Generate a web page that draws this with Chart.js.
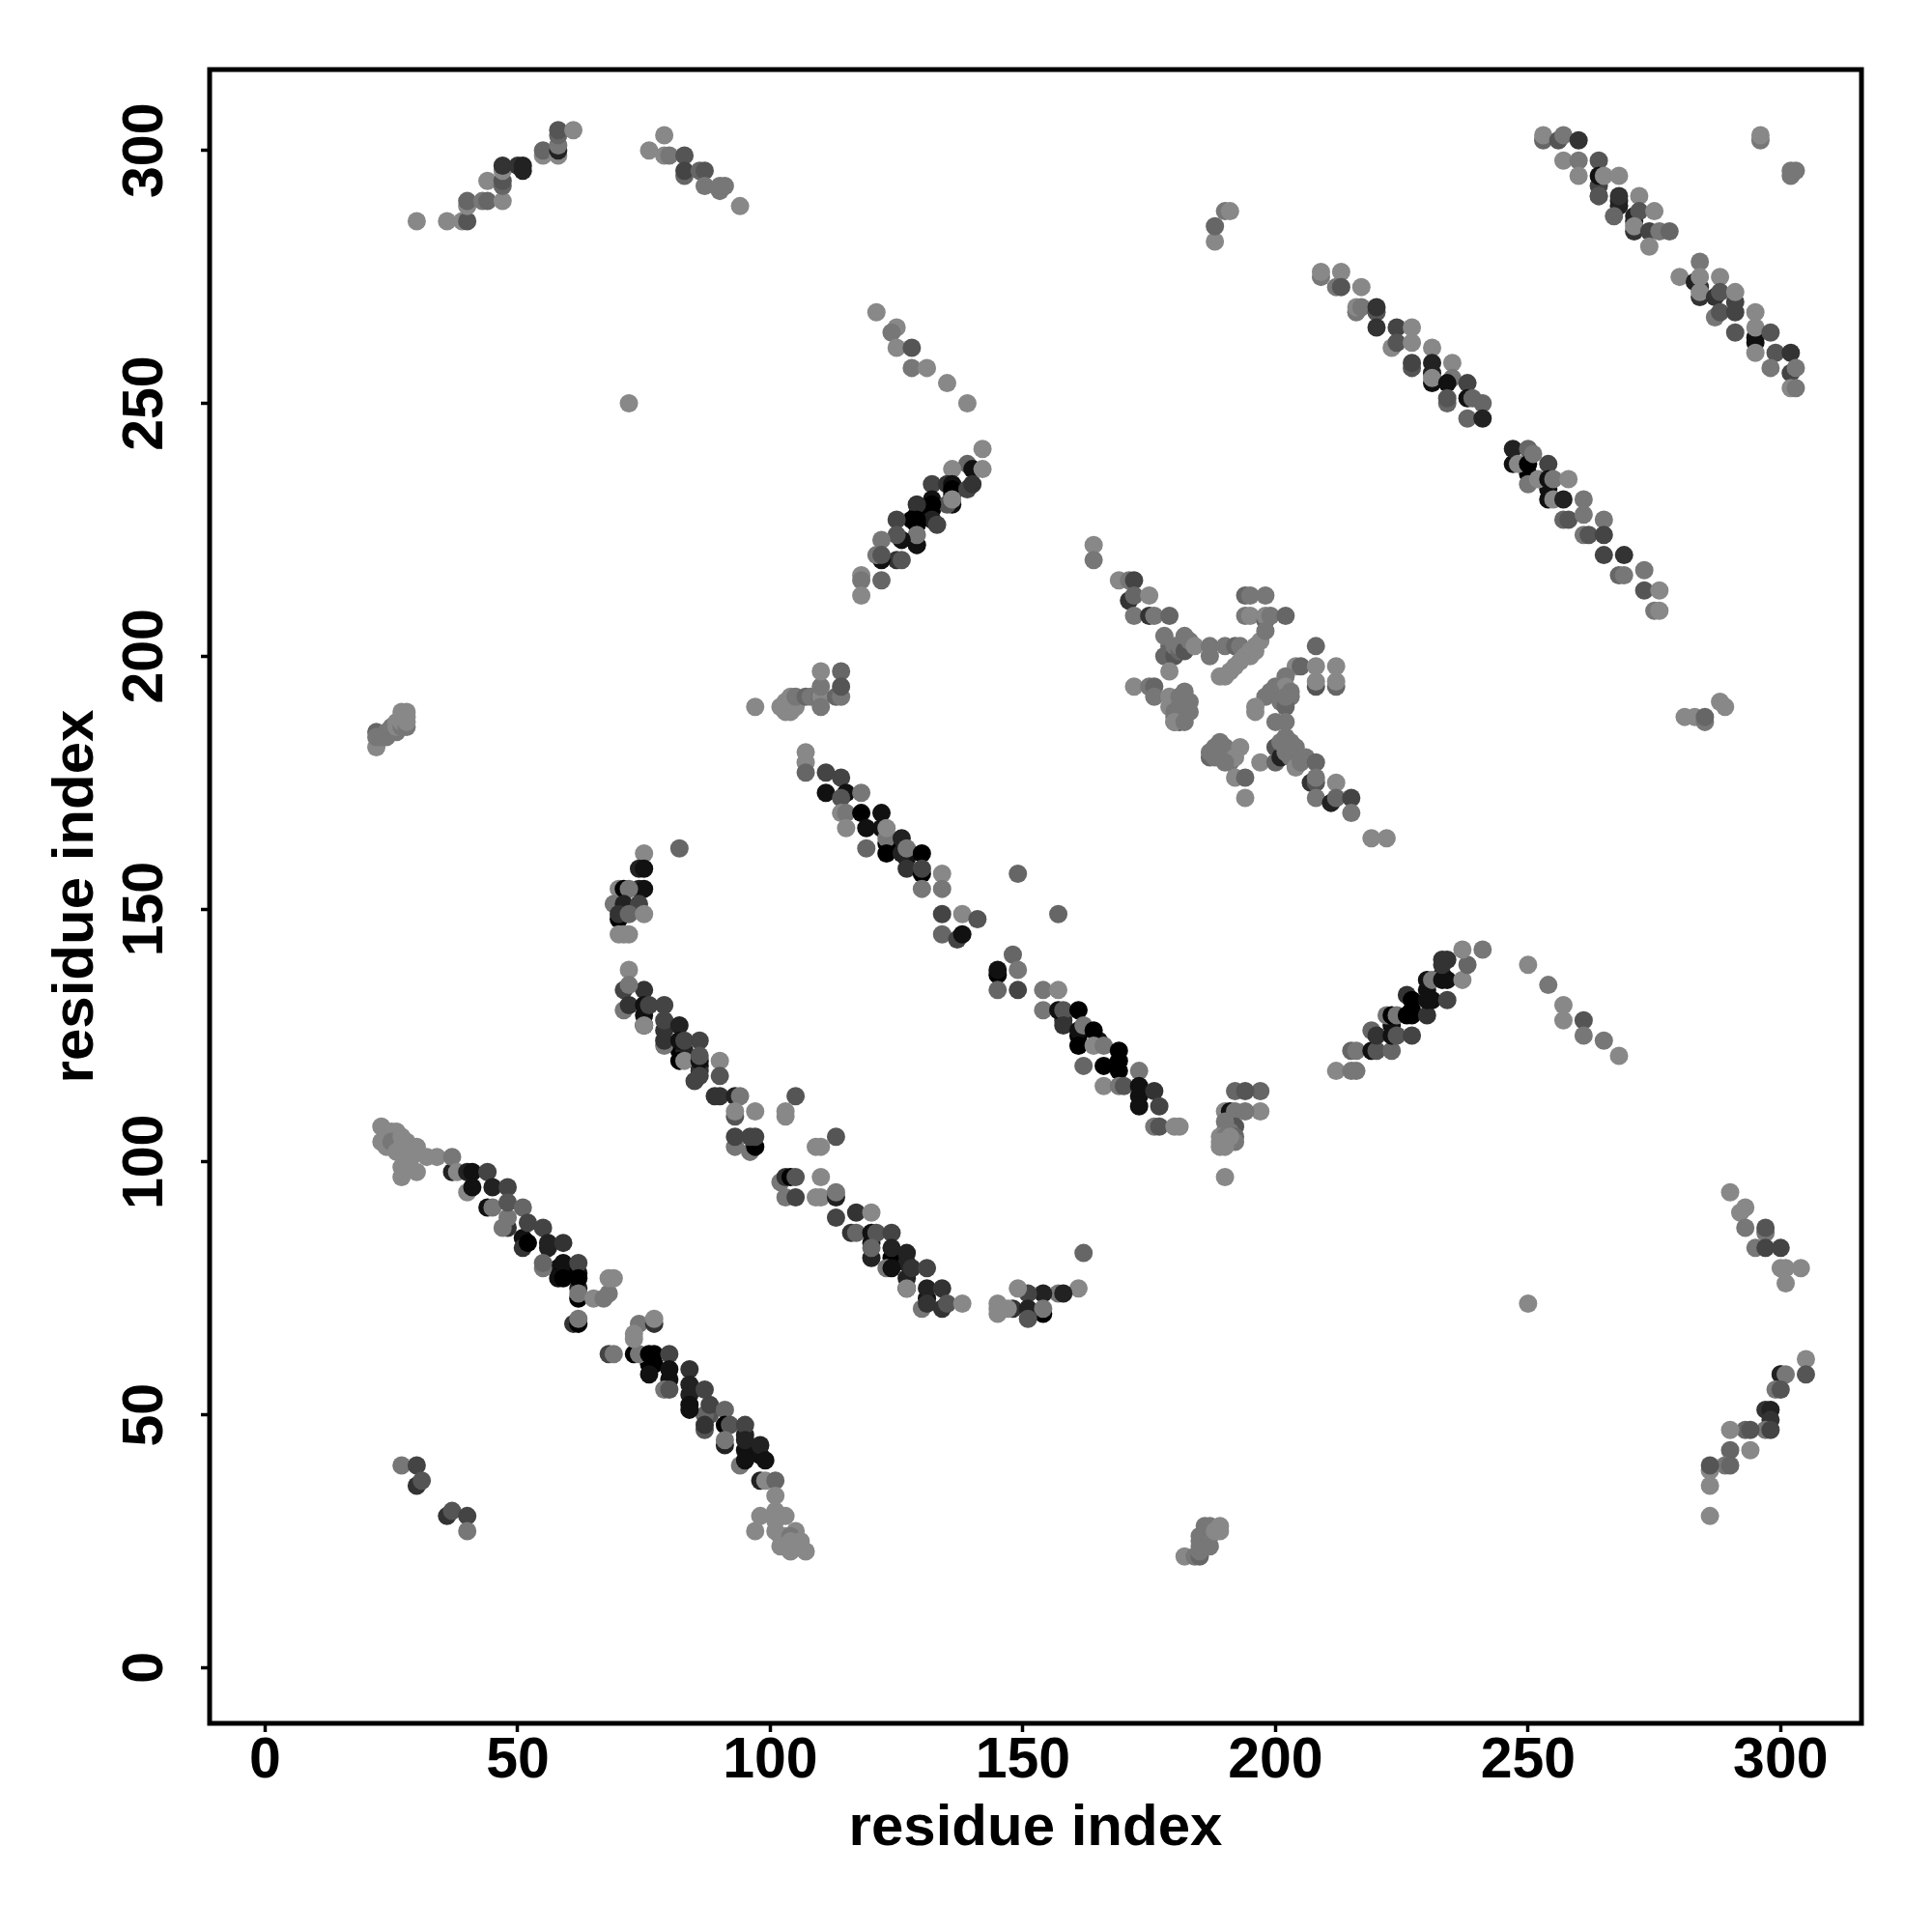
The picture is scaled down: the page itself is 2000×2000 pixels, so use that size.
<!DOCTYPE html>
<html lang="en">
<head>
  <meta charset="UTF-8" />
  <title>Residue contact map</title>
  <script src="https://cdn.jsdelivr.net/npm/chart.js"></script>
  <style>
    body { margin: 0; background: #fff; }
    canvas { display: block; }
  </style>
</head>
<body>
  <canvas id="contactChart" width="2000" height="2000"></canvas>

  <script>
    // each contact is [residue x, residue y, darkness level 0 (black) .. 8 (light gray)]
    const tickValues = [0, 50, 100, 150, 200, 250, 300];
    const axisLabel = "residue index";

    const bandLowerLeft = [
      [51,85,1],[59,79,1],[58,79,1],[62,78,1],[59,78,0],[62,75,2],[56,83,2],[84,54,2],[84,52,1],[88,50,5],[87,50,6],[95,43,1],[95,46,2],[98,42,1],[80,57,1],[77,60,0],[76,60,0],
      [23,107,8],[23,104,8],[25,106,8],[24,103,8],[24,105,8],[26,106,8],[25,104,7],[26,102,8],[27,105,8],[27,103,8],[28,104,8],[30,103,8],[29,101,8],[27,99,8],[27,97,8],[30,98,8],[32,101,8],[34,101,8],
      [37,98,2],[37,101,7],[38,98,8],[40,98,2],[41,98,1],[44,98,4],[40,94,8],[41,95,1],[45,95,2],[48,95,4],[44,91,1],[45,91,7],
      [48,87,3],[47,87,7],[48,89,7],[48,92,5],[51,91,6],[52,88,4],[55,87,4],[51,83,3],[52,84,0],[56,84,2],[59,84,3],
      [55,79,7],[55,80,6],[59,80,1],[62,80,4],[58,77,1],[59,77,0],[62,77,0],[62,73,0],[62,74,7],[65,73,8],[67,73,7],[68,74,7],[68,77,8],[69,77,8],
      [61,68,3],[62,68,0],[62,69,7],[68,62,4],[69,62,7],[73,62,0],[74,62,7],[74,68,7],[73,66,8],[73,65,8],[77,68,3],[77,69,8],
      [76,62,0],[77,62,0],[80,62,4],[76,58,1],[80,59,1],[84,59,3],[79,55,7],[80,55,5],[84,56,2],[87,55,4],[84,51,1],[88,52,4],[91,51,6],
      [87,47,5],[87,48,3],[91,48,0],[92,48,5],[95,48,4],[91,44,2],[91,45,7],[95,45,2],[98,44,2],[94,40,7],[95,41,1],[99,41,1],[98,37,2],[99,37,8],[101,37,6],
      [101,34,8],[101,31,8],[98,30,8],[103,30,8],[97,27,8],[101,29,8],[101,27,8],[102,26,8],[105,27,8],[103,25,6],[103,26,8],[104,26,7],[104,25,8],[106,25,8],[105,24,8],[102,24,8],[103,24,8],[104,23,8],[107,23,8],
      [27,40,7],[30,40,4],[30,36,3],[31,37,5],[36,30,3],[37,31,5],[40,30,4],[40,27,7]
    ];

    const bandMiddleLeft = [
      [75,129,1],[82,122,0],[86,119,1],[83,122,2],[79,126,3],[86,118,3],[120,84,1],[124,81,0],[127,80,2],[131,73,1],[127,77,2],
      [72,138,8],[71,134,4],[75,134,3],[72,135,7],[71,130,7],[72,131,3],[75,131,1],[76,131,4],[79,131,4],[75,127,0],[75,127,8],[79,128,4],[82,127,2],
      [79,123,7],[79,124,3],[82,124,1],[83,124,4],[86,124,4],[82,120,0],[83,120,8],[86,120,1],[86,121,5],[90,120,8],[85,116,4],[86,117,4],[90,117,5],
      [89,113,3],[90,113,3],[93,113,2],[94,113,7],[93,109,5],[93,110,8],[97,110,8],[93,103,7],[93,105,4],[96,102,7],[97,103,0],[96,105,4],[97,105,4],
      [105,113,5],[103,109,8],[103,110,8],[113,105,5],[109,103,8],[110,103,8],
      [102,96,7],[103,97,3],[104,97,0],[105,97,5],[103,93,7],[105,93,4],[110,97,8],[109,93,8],[110,93,8],[113,93,2],[113,94,7],
      [113,89,4],[117,90,3],[120,90,8],[116,86,3],[117,86,6],[120,86,1],[121,86,5],[124,86,4],[120,81,2],[120,83,6],[124,83,2],[127,82,2],
      [123,79,7],[124,79,1],[128,79,3],[131,79,4],[127,75,0],[127,75,8],[131,75,2],[134,75,3],[130,71,7],[131,72,3],[134,71,3],[135,72,5],[138,72,8],
      [162,82,6],[161,75,8],[157,74,7],[158,74,2],[154,74,2],[151,74,4],[149,75,8],[148,71,3],[151,71,2],[154,70,0],[154,71,7],[151,69,5],[145,72,8],[145,71,8],[145,70,8],[147,71,8],
      [75,161,8],[82,162,6],[74,158,2],[75,158,1],[74,154,2],[75,154,1],[70,154,8],[71,154,0],[72,154,7],[69,151,7],[71,151,2],[74,151,4],
      [70,148,0],[70,149,3],[72,149,6],[75,149,8],[70,145,8],[71,145,8],[72,145,8]
    ];

    const bandCentre = [
      [126,162,1],[122,166,1],[123,163,0],[127,160,1],[161,125,0],[165,124,1],[169,120,0],[173,113,1],[158,128,3],
      [107,181,8],[107,179,8],[107,177,6],[111,177,4],[114,176,4],[111,173,1],[115,173,1],[118,173,7],[114,172,5],[114,169,8],[115,169,7],[118,169,0],[122,169,1],
      [115,166,8],[119,166,1],[123,164,7],[123,166,8],[126,164,2],[119,162,6],[123,161,0],[126,161,2],[127,162,7],[130,161,0],[127,158,3],[130,157,0],[130,158,4],
      [130,154,7],[134,157,8],[134,154,7],[134,149,4],[138,149,8],[141,148,5],[134,145,6],[137,144,4],[138,145,1],
      [149,157,6],[157,149,6],[148,141,6],[145,137,0],[145,138,1],[149,138,7],[145,134,6],[149,134,4],[154,134,7],[157,134,8],
      [154,130,7],[157,130,1],[158,130,5],[161,130,0],[158,127,3],[161,126,1],[162,127,7],[164,126,0],[161,123,0],[164,123,8],[166,123,7],[169,122,0],
      [162,119,6],[166,119,0],[169,118,0],[173,118,7],[166,115,8],[169,115,7],[170,115,5],[173,115,1],[176,114,3],[173,111,1],[177,111,4],
      [176,107,7],[177,107,5],[180,107,8],[181,107,8]
    ];

    const helixUpper = [
      [129,228,0],[132,229,0],[136,232,1],
      [121,268,8],[125,265,8],[124,264,7],[125,261,8],[128,261,5],[128,257,7],[131,257,8],[135,254,8],[139,250,8],
      [142,241,8],[139,238,6],[140,237,1],[142,237,8],[136,237,8],[132,234,4],[135,234,3],[136,234,1],[136,233,0],[139,233,4],[140,234,3],
      [132,231,1],[136,230,1],[135,230,5],[136,231,8],[132,230,0],[129,230,3],[132,227,2],[133,226,4],[128,227,0],[129,227,0],[129,226,0],[125,227,4],
      [129,222,8],[129,222,1],[129,224,7],[126,223,1],[125,224,5],[122,223,7],[125,219,3],[126,219,5],[122,219,1],[121,220,7],[122,220,5],
      [122,215,6],[118,216,8],[118,215,7],[118,212,8]
    ];

    const helixLowerRight = [
      [233,137,1],[230,134,1],[227,130,0],[223,127,1],
      [212,118,8],[215,118,7],[216,118,7],[215,122,6],[216,122,7],[219,122,1],[220,122,5],[223,122,6],[219,126,6],[220,125,3],[223,125,1],[224,125,5],[227,125,4],
      [222,129,7],[223,129,0],[224,129,7],[226,129,0],[227,129,0],[230,129,3],[226,133,3],[227,132,0],[230,132,1],[231,132,1],[234,132,4],
      [230,136,1],[231,136,7],[233,136,1],[234,136,1],[233,140,3],[234,140,3],[233,139,3],[237,136,8],[238,139,6],[237,142,8],[241,142,7],
      [250,139,8],[254,135,7],[257,131,8],[257,128,8],[261,128,5],[261,125,7],[265,124,7],[268,121,8],
      [197,114,6],[197,110,8],[192,114,6],[194,114,5],[190,110,8],[191,110,1],[192,110,7],[194,110,7],[192,107,5],[190,108,7],[190,106,7],[191,106,7],[192,105,6],[192,104,7],
      [189,105,8],[190,105,7],[191,105,8],[189,104,8],[190,104,8],[189,103,8],[190,103,8],[190,97,8]
    ];

    const clusterDiagonal = [
      [164,222,8],[164,219,7],[169,215,8],[171,215,7],[172,215,4],[171,211,3],[172,212,6],[175,212,8],[172,208,7],[175,208,3],[176,208,7],[179,208,6],
      [178,200,6],[179,202,6],[179,200,6],[180,200,5],[180,202,7],[181,201,6],[181,202,7],[178,204,7],[182,201,5],[182,204,7],[183,203,7],[184,202,8],[187,202,7],[187,200,7],[179,197,8],[190,202,7],[192,202,6],[193,202,7],[196,202,8],
      [194,201,7],[195,201,8],[196,201,8],[195,200,8],[197,203,8],[194,200,8],[193,199,8],[192,198,8],[191,197,8],[189,196,8],[190,196,8],[194,212,6],[195,212,7],[198,212,7],[194,208,7],[195,208,8],[198,207,6],[198,208,8],[199,208,7],[202,208,6],[198,205,7],
      [172,194,8],[175,194,7],[176,194,6],[176,192,7],[179,192,8],[182,193,7],[179,190,8],[180,189,7],[181,190,7],[181,192,7],[182,191,7],[183,191,7],[183,189,7],[180,187,6],[181,187,5],[182,188,7],[181,189,7],[180,188,7],[180,187,8],[182,187,7],
      [208,202,6],[204,198,8],[205,198,6],[208,198,8],[212,198,8],[208,194,5],[208,195,8],[212,194,6],[212,195,8],[202,196,7],[200,194,7],[201,194,7],[202,194,8],
      [199,193,7],[203,193,7],[198,192,7],[203,192,7],[201,191,7],[196,190,8],[196,189,8],[202,190,6],[202,192,7],[200,187,7],[202,187,7],[202,184,7],
      [189,183,7],[187,180,6],[187,181,7],[188,182,7],[188,180,7],[189,180,7],[190,182,7],[191,181,7],[191,179,7],[193,182,8],[192,180,8],[190,179,7],[192,176,8],[194,176,6],[194,172,8],[197,179,8],
      [200,182,5],[200,179,6],[201,180,2],[201,183,7],[202,181,7],[203,183,7],[204,182,7],[203,180,7],[205,180,7],[206,180,7],[204,178,8],[205,179,7],[208,179,6],[207,175,3],[208,175,5],[208,176,7],[212,175,8],[208,172,7],
      [211,171,2],[212,172,6],[215,172,4],[215,169,7],[219,164,8],[222,164,8]
    ];

    const clusterSides = [
      [22,182,8],[22,185,6],[22,184,7],[23,184,7],[24,184,7],[24,185,7],[25,186,7],[26,185,7],[26,186,8],[26,187,8],[27,186,7],[27,187,8],[28,186,7],[28,187,8],[28,188,8],[27,189,8],[28,189,8],
      [97,190,8],[102,190,8],[103,189,8],[103,190,8],[103,191,8],[104,189,8],[104,190,8],[105,190,8],[104,192,8],[105,192,7],[107,192,6],[108,192,7],[110,192,2],[110,192,8],[110,190,7],[110,194,7],[110,197,8],
      [114,197,6],[113,192,6],[114,192,7],[114,194,5],
      [182,22,8],[184,22,7],[185,22,6],[185,23,7],[185,24,7],[185,25,7],[186,25,7],[185,26,7],[187,24,7],[187,26,7],[186,27,7],[186,28,7],[187,28,7],[188,27,8],[189,28,8],[189,27,8],
      [188,282,8],[188,285,6],[190,288,7],[191,288,8],[281,188,8],[283,188,8],[285,187,7],[285,188,6],[288,191,8],[289,190,8]
    ];

    const arcTopLeft = [
      [30,286,8],[36,286,8],[39,286,8],[40,286,5],[40,289,8],[40,290,6],[43,290,7],[44,290,6],[47,290,8],[44,294,8],[47,293,6],[47,294,5],[47,296,8],[47,297,3],
      [50,297,3],[51,296,2],[51,297,2],[55,299,8],[55,300,6],[58,299,8],[58,300,2],[58,301,7],[58,303,6],[58,304,5],[61,304,8],
      [76,300,8],[79,303,8],[79,299,8],[80,299,7],[83,299,5],[83,295,6],[83,296,4],[86,296,6],[87,296,5],[87,293,7],[90,292,7],[90,293,7],[91,293,7],[94,289,8],
      [72,250,8]
    ];

    const bandsTopRight = [
      [284,273,3],[291,270,4],[295,262,1],[231,256,2],[264,293,4],[268,289,2],[271,286,2],
      [209,275,7],[209,276,8],[213,276,8],[212,273,7],[213,273,5],[217,273,8],[216,268,7],[216,269,8],[217,269,7],[220,268,5],[220,269,3],[220,265,3],[224,265,4],[227,265,8],
      [223,261,8],[224,262,5],[227,262,8],[231,261,8],[227,257,5],[227,258,4],[231,258,2],[231,254,1],[231,255,8],[235,258,8],[235,255,7],[234,254,1],[234,250,6],[234,251,5],
      [238,254,4],[238,251,1],[239,251,6],[241,250,6],[238,247,6],[241,247,2],
      [253,302,6],[253,303,8],[256,302,5],[257,303,7],[260,302,3],[257,298,8],[260,298,7],[264,298,5],[260,295,8],[264,295,1],[265,295,8],[268,295,8],
      [264,291,6],[264,291,5],[268,290,2],[268,291,3],[272,291,8],[267,287,6],[271,287,2],[272,288,5],[275,288,8],[271,284,3],[271,285,8],[274,284,4],[276,284,7],[278,284,6],[274,281,8],
      [280,275,8],[284,278,7],[283,274,2],[284,275,8],[284,271,3],[284,272,8],[288,275,8],[287,271,3],[288,272,5],[291,272,8],[287,267,7],[288,268,5],[291,268,4],[295,268,8],
      [291,264,5],[295,263,1],[295,265,8],[298,264,5],[295,260,8],[299,260,5],[302,260,3],[298,257,7],[302,256,4],[303,257,7],[302,253,8],[303,253,7],
      [296,302,7],[296,303,8],[302,295,7],[302,296,7],[303,296,7]
    ];

    const bandRightLower = [
      [254,233,1],[250,236,0],
      [247,238,1],[247,241,2],[250,241,6],[248,238,8],[250,238,0],[251,240,7],[254,238,4],[250,234,7],[252,235,8],[254,235,1],[255,235,7],[258,235,8],
      [254,231,1],[255,231,8],[257,231,2],[261,231,7],[257,227,6],[258,227,5],[261,228,7],[265,227,7],[261,224,7],[262,224,5],[265,224,4],[265,220,4],[269,220,3],
      [268,216,6],[269,216,7],[273,217,7],[273,213,5],[276,213,8],[275,209,7],[276,209,8]
    ];

    const clusterRightEdge = [
      [290,94,8],[292,90,8],[293,91,8],[293,87,7],[297,86,7],[297,87,5],[295,83,7],[297,83,4],[300,83,4],[300,79,8],[301,79,8],[304,79,8],[301,76,8],
      [250,72,8],[305,61,8],[300,58,6],[300,58,2],[301,58,7],[305,58,5],[299,55,7],[300,55,5],[297,51,3],[298,51,2],[298,49,3],[297,47,7],[298,47,4],
      [293,47,6],[294,47,5],[294,43,8],[290,47,8],[290,43,6],[289,40,7],[290,40,6],[286,39,8],[286,40,5],[286,36,8],[286,30,8]
    ];

    const contacts = [
      ...bandLowerLeft, ...bandMiddleLeft, ...bandCentre, ...helixUpper, ...helixLowerRight, ...clusterDiagonal,
      ...clusterSides, ...arcTopLeft, ...bandsTopRight, ...bandRightLower, ...clusterRightEdge
    ];

    function levelColor(level) {
      const c = level * 17;
      return `rgb(${c},${c},${c})`;
    }

    const framePlugin = {
      id: "frame",
      afterDatasetsDraw(chart) {
        const { ctx, chartArea: a } = chart;
        ctx.save();
        ctx.strokeStyle = "#000";
        ctx.lineWidth = 5;
        ctx.strokeRect(a.left, a.top, a.right - a.left, a.bottom - a.top);
        ctx.restore();
      }
    };

    const tickFont = { family: "'Liberation Sans', Arial, sans-serif", size: 59, weight: "bold", lineHeight: 1 };
    const titleFont = { family: "'Liberation Sans', Arial, sans-serif", size: 60, weight: "bold", lineHeight: 1 };
    const gridOptions = { drawOnChartArea: false, drawTicks: true, tickLength: 9, tickWidth: 3.5, tickColor: "#000" };

    new Chart(document.getElementById("contactChart").getContext("2d"), {
      type: "scatter",
      data: {
        datasets: [{
          data: contacts.map(c => ({ x: c[0], y: c[1] })),
          pointBackgroundColor: contacts.map(c => levelColor(c[2])),
          pointBorderWidth: 0,
          pointRadius: 9.5
        }]
      },
      options: {
        responsive: false,
        animation: false,
        layout: { padding: { top: 72, right: 73, left: 0, bottom: 0 } },
        plugins: { legend: { display: false }, tooltip: { enabled: false } },
        scales: {
          x: {
            type: "linear",
            min: -11,
            max: 316,
            border: { display: false },
            grid: gridOptions,
            afterBuildTicks: s => { s.ticks = tickValues.map(v => ({ value: v })); },
            afterFit: s => { s.height = 216; },
            ticks: { color: "#000", font: tickFont, padding: 1, maxRotation: 0 },
            title: { display: true, text: axisLabel, color: "#000", font: titleFont, padding: { top: 0, bottom: 77 } }
          },
          y: {
            type: "linear",
            min: -11,
            max: 316,
            border: { display: false },
            grid: gridOptions,
            afterBuildTicks: s => { s.ticks = tickValues.map(v => ({ value: v })); },
            afterFit: s => { s.width = 217; },
            ticks: { color: "#000", font: tickFont, padding: 7, minRotation: 90, maxRotation: 90, crossAlign: "center" },
            title: { display: true, text: axisLabel, color: "#000", font: titleFont, padding: { top: 49, bottom: 0 } }
          }
        }
      },
      plugins: [framePlugin]
    });
  </script>
</body>
</html>
